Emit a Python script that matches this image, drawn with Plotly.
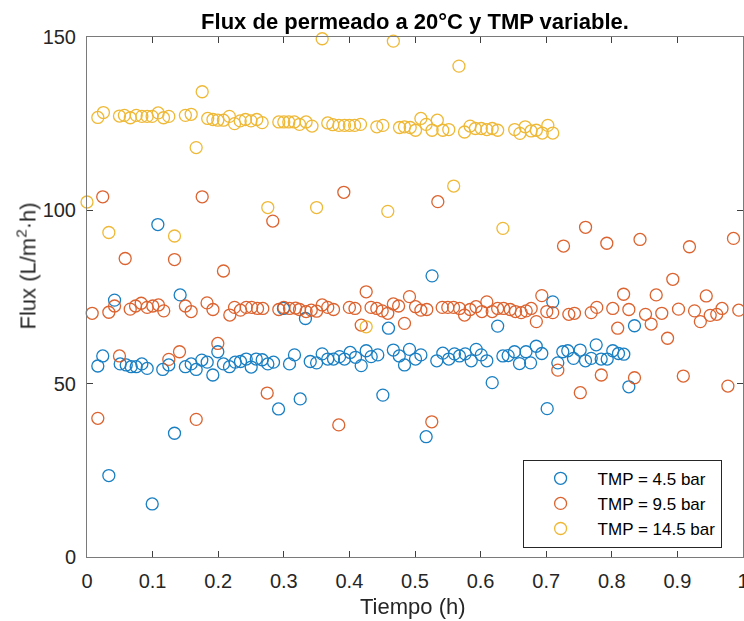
import plotly.graph_objects as go

# ---- data ----
t_45 = [0.0165, 0.024, 0.0333, 0.042, 0.0506, 0.0598, 0.0674, 0.075, 0.0836, 0.0917,
        0.0994, 0.108, 0.1155, 0.1247, 0.1334, 0.142, 0.150, 0.1588, 0.1664, 0.175,
        0.1832, 0.1918, 0.1994, 0.208, 0.2172, 0.2259, 0.234, 0.2427, 0.2503, 0.258,
        0.2671, 0.2757, 0.2843, 0.292, 0.2995, 0.3087, 0.3163, 0.325, 0.333, 0.3403,
        0.350, 0.3585, 0.367, 0.3758, 0.385, 0.3925, 0.4012, 0.4093, 0.418, 0.4256,
        0.4332, 0.4433, 0.451, 0.4596, 0.467, 0.476, 0.484, 0.4916, 0.5008, 0.509,
        0.517, 0.526, 0.5332, 0.5424, 0.5515, 0.5602, 0.5678, 0.5765, 0.5857, 0.5933,
        0.601, 0.6095, 0.6177, 0.626, 0.634, 0.642, 0.6517, 0.6593, 0.6692, 0.6762,
        0.6848, 0.6933, 0.7015, 0.710, 0.7177, 0.7253, 0.7329, 0.7416, 0.7518, 0.7599,
        0.7686, 0.7762, 0.7838, 0.793, 0.8015, 0.8102, 0.8183, 0.826, 0.8346]
f_45 = [55.1, 58.0, 23.5, 74.1, 55.7, 55.4, 54.9, 54.9, 55.7, 54.4,
        15.3, 95.9, 54.1, 55.4, 35.7, 75.6, 54.9, 55.7, 54.1, 56.8,
        56.2, 52.5, 59.2, 55.7, 54.9, 56.2, 56.4, 57.1, 54.8, 57.1,
        56.9, 55.7, 56.2, 42.7, 71.7, 55.7, 58.3, 45.6, 68.8, 56.4,
        56.0, 58.6, 57.1, 57.1, 57.8, 57.1, 59.0, 57.6, 55.2, 59.5,
        57.8, 58.3, 46.7, 66.0, 59.7, 58.0, 55.4, 59.9, 57.1, 58.3,
        34.7, 81.1, 56.6, 58.8, 57.1, 58.6, 58.0, 58.6, 56.6, 59.9,
        58.3, 56.6, 50.3, 66.6, 58.0, 58.1, 59.2, 55.8, 59.2, 56.0,
        60.8, 58.7, 42.8, 73.6, 56.0, 59.2, 59.5, 57.3, 59.7, 56.6,
        57.3, 61.2, 57.1, 57.1, 59.5, 58.7, 58.5, 49.1, 66.7]

t_95 = [0.0079, 0.0165, 0.024, 0.0333, 0.042, 0.0495, 0.0582, 0.0659, 0.074, 0.0826,
        0.0917, 0.1003, 0.109, 0.117, 0.1247, 0.1334, 0.141, 0.150, 0.1588, 0.1665,
        0.1756, 0.183, 0.192, 0.1994, 0.208, 0.2177, 0.2249, 0.234, 0.2427, 0.251,
        0.260, 0.268, 0.2747, 0.2832, 0.2924, 0.300, 0.3087, 0.318, 0.324, 0.334,
        0.3418, 0.350, 0.3585, 0.367, 0.3758, 0.3838, 0.3915, 0.400, 0.4085, 0.418,
        0.4256, 0.433, 0.4418, 0.450, 0.4585, 0.467, 0.475, 0.484, 0.4916, 0.5008,
        0.509, 0.518, 0.5256, 0.5348, 0.5415, 0.550, 0.5587, 0.568, 0.5755, 0.584,
        0.593, 0.602, 0.6095, 0.6177, 0.626, 0.635, 0.6451, 0.6532, 0.6619, 0.6695,
        0.6771, 0.685, 0.6933, 0.7009, 0.710, 0.7177, 0.7264, 0.7345, 0.7431, 0.752,
        0.760, 0.7686, 0.7771, 0.784, 0.7924, 0.8015, 0.809, 0.818, 0.826, 0.8346,
        0.843, 0.8514, 0.860, 0.8677, 0.8762, 0.885, 0.893, 0.9017, 0.909, 0.9184,
        0.9261, 0.935, 0.944, 0.950, 0.960, 0.968, 0.977, 0.9855, 0.9936]
f_95 = [70.3, 40.0, 103.9, 70.6, 72.4, 58.0, 86.1, 71.5, 72.4, 73.2,
        72.0, 72.4, 72.7, 71.0, 57.0, 85.8, 59.2, 72.4, 70.8, 39.7,
        103.9, 73.3, 71.4, 61.6, 82.5, 69.8, 72.0, 71.2, 72.0, 72.0,
        71.7, 71.7, 47.3, 96.9, 71.4, 72.0, 71.7, 71.8, 71.4, 70.8,
        71.2, 70.9, 72.7, 72.0, 71.4, 38.1, 105.2, 72.0, 71.7, 66.9,
        76.5, 72.0, 71.7, 71.0, 70.3, 73.0, 72.4, 67.4, 75.1, 72.2,
        71.2, 71.4, 39.0, 102.5, 72.0, 72.0, 72.0, 71.7, 69.8, 71.4,
        72.2, 70.8, 73.6, 70.8, 71.7, 71.7, 71.4, 70.8, 70.5, 71.0,
        71.7, 67.9, 75.4, 70.8, 70.5, 53.9, 89.7, 70.0, 70.3, 47.4,
        95.1, 70.5, 72.0, 52.5, 90.5, 71.7, 66.0, 75.8, 71.4, 51.7,
        91.6, 70.0, 67.2, 75.6, 70.3, 63.1, 80.1, 71.5, 52.2, 89.5,
        71.0, 67.9, 75.3, 69.7, 70.0, 71.7, 49.3, 91.9, 71.2]

t_145 = [0.0, 0.0165, 0.025, 0.0333, 0.0495, 0.057, 0.066, 0.075, 0.0836, 0.0917,
         0.0993, 0.1085, 0.1166, 0.1247, 0.1334, 0.150, 0.1588, 0.1664, 0.1756, 0.184,
         0.192, 0.1994, 0.208, 0.217, 0.2249, 0.2335, 0.2416, 0.250, 0.2588, 0.267,
         0.2756, 0.2924, 0.300, 0.3076, 0.316, 0.324, 0.334, 0.343, 0.350, 0.3585,
         0.367, 0.3747, 0.384, 0.3925, 0.400, 0.408, 0.417, 0.4256, 0.4418, 0.451,
         0.4585, 0.467, 0.4764, 0.484, 0.4927, 0.5008, 0.509, 0.517, 0.526, 0.534,
         0.5424, 0.5515, 0.559, 0.567, 0.5755, 0.584, 0.592, 0.601, 0.6095, 0.6177,
         0.626, 0.634, 0.652, 0.660, 0.668, 0.677, 0.685, 0.694, 0.7025, 0.710]
f_145 = [102.4, 126.8, 128.2, 93.6, 127.2, 127.4, 126.7, 127.4, 127.1, 127.1,
         127.1, 128.1, 126.7, 127.1, 92.6, 127.4, 127.7, 118.1, 134.2, 126.5,
         126.2, 126.0, 126.0, 127.1, 125.0, 125.8, 126.2, 125.8, 126.2, 125.3,
         100.8, 125.5, 125.5, 125.5, 125.5, 124.8, 125.5, 124.3, 100.8, 149.5,
         125.2, 124.7, 124.5, 124.5, 124.5, 124.5, 124.8, 66.4, 124.1, 124.5,
         99.7, 148.8, 123.9, 124.1, 123.9, 123.1, 126.5, 124.8, 123.1, 126.0,
         123.1, 123.3, 107.0, 141.6, 122.6, 124.3, 123.6, 123.6, 123.3, 123.6,
         123.1, 94.8, 123.3, 122.2, 124.1, 122.9, 123.1, 122.3, 124.5, 122.3]

series_names = ["TMP = 4.5 bar", "TMP = 9.5 bar", "TMP = 14.5 bar"]
series_colors = ["#0072BD", "#D95319", "#EDB120"]

x_ticks = [0, 0.1, 0.2, 0.3, 0.4, 0.5, 0.6, 0.7, 0.8, 0.9, 1]
x_ticklabels = ["0", "0.1", "0.2", "0.3", "0.4", "0.5", "0.6", "0.7", "0.8", "0.9", "1"]
y_ticks = [0, 50, 100, 150]

FONT = "Liberation Sans, Arial, Helvetica, sans-serif"

fig = go.Figure()
for t, f, name, col in zip([t_45, t_95, t_145], [f_45, f_95, f_145], series_names, series_colors):
    fig.add_trace(go.Scatter(
        x=t, y=f, mode="markers", name=name,
        marker=dict(symbol="circle-open", size=12, color=col, line=dict(width=1.3, color=col)),
        opacity=0.9, cliponaxis=False,
    ))

axis_common = dict(
    showline=True, linecolor="#7a7a7a", linewidth=1, mirror="ticks",
    ticks="inside", ticklen=6, tickcolor="#404040", tickwidth=1,
    showgrid=False, zeroline=False, automargin=False,
    tickfont=dict(family=FONT, size=20, color="#262626"),
)

fig.update_xaxes(range=[0, 1], tickvals=x_ticks, ticktext=x_ticklabels,
                 ticklabelstandoff=6, ticklabeloverflow="allow", **axis_common)
fig.update_yaxes(range=[0, 150], tickvals=y_ticks, ticklabelstandoff=6, **axis_common)

fig.update_layout(
    width=744, height=621,
    margin=dict(l=87, r=1, t=37, b=64),
    plot_bgcolor="white", paper_bgcolor="white",
    font=dict(family=FONT, color="#262626"),
    title=dict(text="<b>Flux de permeado a 20°C y TMP variable.</b>",
               font=dict(family=FONT, size=22, color="#000000"),
               x=0.5, xref="paper", xanchor="center",
               y=1 - 21 / 621, yref="container", yanchor="middle"),
    legend=dict(x=0.664, y=0.187, xanchor="left", yanchor="top",
                bgcolor="white", bordercolor="#262626", borderwidth=1,
                font=dict(family=FONT, size=17, color="#000000"),
                itemwidth=64),
    showlegend=True,
    annotations=[
        dict(text="Flux (L/m<sup>2</sup>·h)", textangle=-90,
             x=(27 - 87.5) / 656, y=0.5596, xref="paper", yref="paper",
             xanchor="center", yanchor="middle", showarrow=False,
             font=dict(family=FONT, size=22, color="#262626")),
        dict(text="Tiempo (h)",
             x=(413 - 87.5) / 656, y=-0.0957, xref="paper", yref="paper",
             xanchor="center", yanchor="middle", showarrow=False,
             font=dict(family=FONT, size=22, color="#262626")),
    ],
)

fig.write_html("out.html")
